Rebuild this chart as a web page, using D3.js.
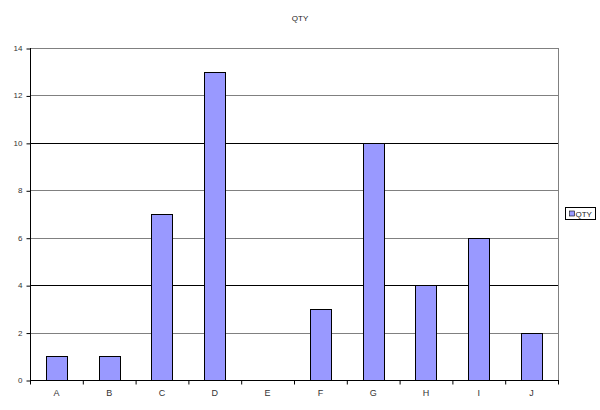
<!DOCTYPE html>
<html><head><meta charset="utf-8">
<script src="https://cdn.jsdelivr.net/npm/d3@7"></script>
<style>body{margin:0;background:#fff}svg{display:block}text{font-family:"Liberation Sans",Arial,sans-serif}</style>
</head><body>
<svg id="c" width="600" height="410"></svg>
<script>
const categories = ["A","B","C","D","E","F","G","H","I","J"];
const qty = [1,1,7,13,0,3,10,4,6,2];
const yTicks = [0,2,4,6,8,10,12,14];
const seriesName = "QTY";

const svg = d3.select("#c");
const m = {l:30, r:558, t:48, b:380};
const x = d3.scaleBand().domain(categories).range([m.l, m.r]).paddingInner(0.6).paddingOuter(0.3);
const xb = d3.scaleBand().domain(categories).range([m.l, m.r]);
const y = d3.scaleLinear().domain([0,14]).range([m.b, m.t]);

svg.append("rect").attr("width",600).attr("height",410).attr("fill","#fff");

// gridlines
svg.append("g").selectAll("line").data(yTicks.filter(d=>d>0)).join("line")
  .attr("x1",m.l).attr("x2",m.r)
  .attr("y1",d=>Math.round(y(d))+0.5).attr("y2",d=>Math.round(y(d))+0.5)
  .attr("stroke",d=> (d===4||d===10) ? "#000" : "#808080").attr("stroke-width",1);

// right border
svg.append("line").attr("x1",m.r+0.5).attr("x2",m.r+0.5).attr("y1",m.t).attr("y2",m.b)
  .attr("stroke","#808080");

// bars
svg.append("g").selectAll("rect").data(categories.map((c,i)=>({c,v:qty[i]})).filter(d=>d.v>0)).join("rect")
  .attr("x",d=>Math.round(x(d.c))+0.5)
  .attr("y",d=>Math.round(y(d.v))+0.5)
  .attr("width",Math.round(x.bandwidth()))
  .attr("height",d=>Math.round(y(0))-Math.round(y(d.v)))
  .attr("fill","#9999ff").attr("stroke","#000").attr("stroke-width",1);

// y axis
const ya = d3.axisLeft(y).tickValues(yTicks).tickSize(4).tickPadding(4);
const gy = svg.append("g").attr("transform",`translate(${m.l+0.5},0)`).call(ya);
gy.select(".domain").remove();
gy.append("line").attr("x1",0).attr("x2",0).attr("y1",m.t).attr("y2",m.b).attr("stroke","#000");
gy.selectAll(".tick line").attr("stroke","#000").attr("transform","translate(0,0.5)");
gy.selectAll(".tick text").attr("font-size",8).attr("fill","#333").style("font-family","Liberation Sans, Arial, sans-serif");

// x axis
const gx = svg.append("g").attr("transform",`translate(0,${m.b+0.5})`);
gx.append("line").attr("x1",m.l).attr("x2",m.r+1).attr("stroke","#000");
gx.selectAll("line.t").data(categories.concat(["_end"])).join("line").attr("class","t")
  .attr("x1",(d,i)=> (i<categories.length ? xb(d) : m.r)+0.5).attr("x2",(d,i)=> (i<categories.length ? xb(d) : m.r)+0.5)
  .attr("y1",0).attr("y2",4).attr("stroke","#000");
gx.selectAll("text").data(categories).join("text")
  .attr("x",d=>xb(d)+xb.bandwidth()/2).attr("y",15)
  .attr("text-anchor","middle").attr("font-size",9).attr("fill","#333").text(d=>d);

// title
svg.append("text").attr("x",300).attr("y",21).attr("text-anchor","middle")
  .attr("font-size",8).attr("fill","#222").text(seriesName);

// legend
const lg = svg.append("g").attr("transform","translate(565.5,207.5)");
lg.append("rect").attr("width",30).attr("height",12).attr("fill","#fff").attr("stroke","#000").attr("stroke-width",1);
lg.append("rect").attr("x",4).attr("y",3.5).attr("width",5).attr("height",5).attr("fill","#9999ff").attr("stroke","#000").attr("stroke-width",0.6);
lg.append("text").attr("x",10).attr("y",9.5).attr("font-size",8).attr("fill","#222").text(seriesName);
</script>
</body></html>
